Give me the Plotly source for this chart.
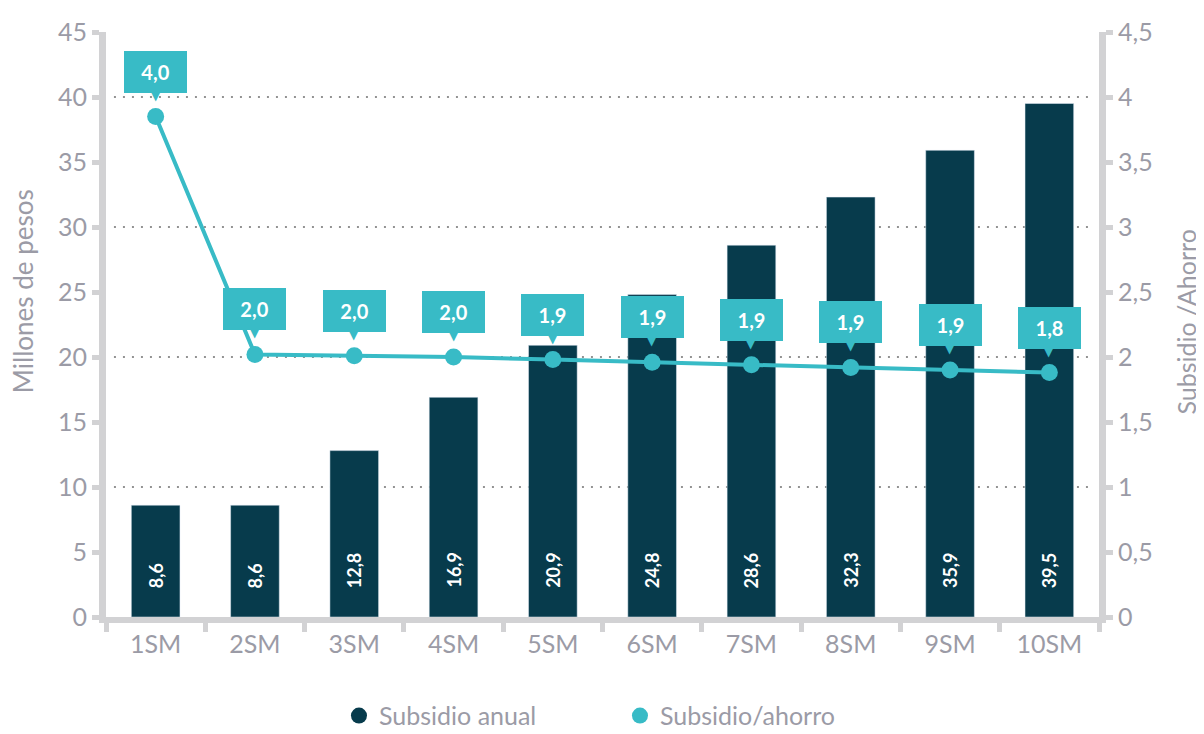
import plotly.graph_objects as go

categories = ["1SM", "2SM", "3SM", "4SM", "5SM", "6SM", "7SM", "8SM", "9SM", "10SM"]
subsidio_anual = [8.6, 8.6, 12.8, 16.9, 20.9, 24.8, 28.6, 32.3, 35.9, 39.5]
subsidio_ahorro = [3.85, 2.02, 2.01, 2.00, 1.98, 1.96, 1.94, 1.92, 1.90, 1.88]
ratio_labels = ["4,0", "2,0", "2,0", "2,0", "1,9", "1,9", "1,9", "1,9", "1,9", "1,8"]
grid_levels = [10, 20, 30, 40]

DARK = "#073b4c"
CYAN = "#38bbc6"
GRAY_TXT = "#9b9ba6"
AXIS_GRAY = "#d2d2d4"
FONT = "Lato"

fig = go.Figure()

fig.add_trace(go.Bar(
    x=categories, y=subsidio_anual, marker_color=DARK, width=0.49,
    showlegend=False, hoverinfo="skip",
))

fig.add_trace(go.Scatter(
    x=categories, y=subsidio_ahorro, yaxis="y2", mode="lines+markers",
    line=dict(color=CYAN, width=4), marker=dict(color=CYAN, size=17),
    showlegend=False, hoverinfo="skip",
))

# legend entries (circles)
fig.add_trace(go.Scatter(x=[None], y=[None], mode="markers", name="Subsidio anual",
                         marker=dict(color=DARK, size=19)))
fig.add_trace(go.Scatter(x=[None], y=[None], mode="markers", name="Subsidio/ahorro",
                         marker=dict(color=CYAN, size=19)))

for lvl in grid_levels:
    fig.add_shape(type="line", xref="paper", x0=0.008, x1=0.995, yref="y", y0=lvl, y1=lvl,
                  line=dict(color="#6f6f6f", width=1.6, dash="2px,7px"), layer="below")

# rotated value labels inside bars
for cat, val in zip(categories, subsidio_anual):
    fig.add_annotation(x=cat, y=0, yref="y", text="<b>" + f"{val:.1f}".replace(".", ",") + "</b>",
                       showarrow=False, textangle=-90, yanchor="bottom", yshift=27,
                       font=dict(color="white", size=18, family=FONT))

# callouts
for cat, val, lab in zip(categories, subsidio_ahorro, ratio_labels):
    fig.add_annotation(x=cat, y=val, yref="y2", text=f"<b>{lab}</b>", showarrow=False,
                       yshift=45, bgcolor=CYAN, bordercolor=CYAN, borderwidth=1, borderpad=3,
                       width=55, height=34, font=dict(color="white", size=20, family=FONT))
    fig.add_annotation(x=cat, y=val, yref="y2", text="▼", showarrow=False, yshift=21,
                       font=dict(color=CYAN, size=12, family="DejaVu Sans"))

# axis titles
fig.add_annotation(xref="paper", yref="paper", x=-0.0836, y=0.557, xanchor="center", yanchor="middle",
                   text="Millones de pesos", textangle=-90, showarrow=False,
                   font=dict(size=26, color=GRAY_TXT, family=FONT))
fig.add_annotation(xref="paper", yref="paper", x=1.088, y=0.504, xanchor="center", yanchor="middle",
                   text="Subsidio /Ahorro", textangle=-90, showarrow=False,
                   font=dict(size=25, color=GRAY_TXT, family=FONT))

axis_common = dict(showline=True, linecolor=AXIS_GRAY, linewidth=7, ticks="outside",
                   tickcolor=AXIS_GRAY, tickwidth=5, ticklen=7,
                   tickfont=dict(color=GRAY_TXT, size=25, family=FONT), zeroline=False,
                   showgrid=False)

fig.update_layout(
    width=1204, height=734,
    margin=dict(l=98, r=113, t=24, b=125, autoexpand=False),
    plot_bgcolor="white", paper_bgcolor="white",
    separators=",.",
    font=dict(family=FONT, color=GRAY_TXT),
    xaxis=dict(showline=True, linecolor=AXIS_GRAY, linewidth=6, ticks="outside",
               tickson="boundaries", tickcolor=AXIS_GRAY, tickwidth=5, ticklen=9,
               tickfont=dict(color=GRAY_TXT, size=25, family=FONT), range=[-0.5, 9.5]),
    yaxis=dict(range=[0, 45], dtick=5, **axis_common),
    yaxis2=dict(range=[0, 4.5], dtick=0.5, overlaying="y", side="right", **axis_common),
    legend=dict(orientation="h", x=0.5176, xanchor="center", y=-0.169, yanchor="middle",
                font=dict(size=25, color=GRAY_TXT, family=FONT), itemsizing="trace",
                entrywidth=236, entrywidthmode="pixels"),
)

fig.write_html("out.html")
